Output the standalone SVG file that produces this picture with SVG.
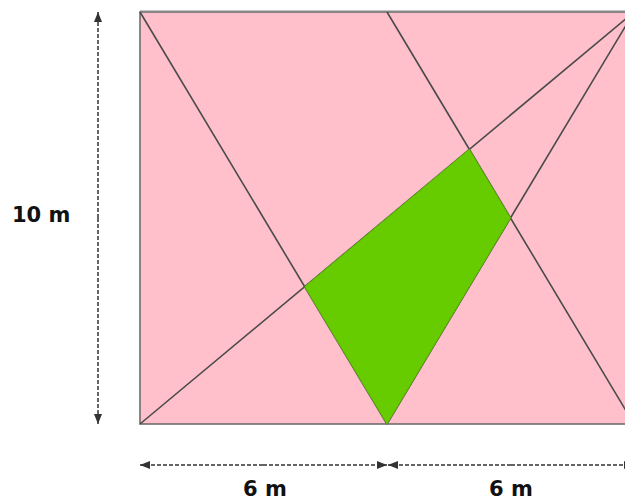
<svg xmlns="http://www.w3.org/2000/svg" width="625" height="501" viewBox="0 0 625 501">
<style>
.ln{stroke:#4a4a4a;stroke-width:1.6;fill:none}
.dim{stroke:#333;stroke-width:1.5;stroke-dasharray:4 2;fill:none}
.lbl{font-family:"DejaVu Sans",sans-serif;font-weight:bold;font-size:21px;fill:#111}
</style>
<defs>
<marker id="ah" viewBox="0 0 10 8" refX="10" refY="4" markerWidth="10" markerHeight="8" markerUnits="userSpaceOnUse" orient="auto">
<path d="M0,0 L10,4 L0,8 Z" fill="#333"/>
</marker>
</defs>
<g id="rect">
<rect x="140" y="12" width="494" height="412" fill="#FFC0CB" stroke="#666" stroke-width="1.5"/>
<line x1="140" y1="11.5" x2="634" y2="11.5" stroke="#888" stroke-width="2"/>
</g>
<g id="connectors">
<line class="ln" x1="140" y1="12" x2="387" y2="424"/>
<line class="ln" x1="387" y1="12" x2="634" y2="424"/>
<line class="ln" x1="140" y1="424" x2="634" y2="12"/>
<line class="ln" x1="387" y1="424" x2="634" y2="12"/>
</g>
<g id="green">
<polygon points="304.7,286.7 469.3,149.3 510.5,218 387,424" fill="#66CC00" stroke="#5DB800" stroke-width="1"/>
</g>
<g id="dimensions">
<line class="dim" x1="98" y1="218" x2="98" y2="12" marker-end="url(#ah)"/>
<line class="dim" x1="98" y1="218" x2="98" y2="424" marker-end="url(#ah)"/>
<line class="dim" x1="263" y1="465" x2="140" y2="465" marker-end="url(#ah)"/>
<line class="dim" x1="263" y1="465" x2="387" y2="465" marker-end="url(#ah)"/>
<line class="dim" x1="511" y1="465" x2="388" y2="465" marker-end="url(#ah)"/>
<line class="dim" x1="511" y1="465" x2="634" y2="465" marker-end="url(#ah)"/>
</g>
<g id="labels">
<text class="lbl" x="12" y="222">10 m</text>
<text class="lbl" x="265" y="496" text-anchor="middle">6 m</text>
<text class="lbl" x="511" y="496" text-anchor="middle">6 m</text>
</g>
</svg>
